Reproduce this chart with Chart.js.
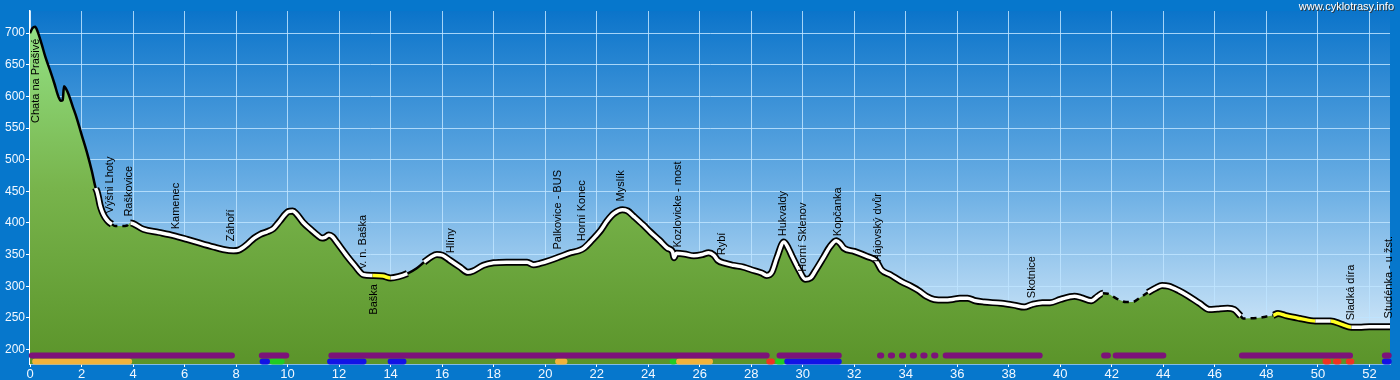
<!DOCTYPE html>
<html>
<head>
<meta charset="utf-8">
<title>Výškový profil</title>
<script src="https://cdn.jsdelivr.net/npm/chart.js@4.4.1/dist/chart.umd.min.js"></script>
<style>
  html, body { margin: 0; padding: 0; background: #0677cc; }
  #wrap { position: relative; width: 1400px; height: 380px; }
</style>
</head>
<body>
<div id="wrap"><canvas id="profile"></canvas></div>
<script>
// elevation profile (km, m n. m.)
const profileKm = [
    0.0, 0.1, 0.2, 0.3, 0.45, 0.6, 0.78, 0.95, 1.1, 1.2, 1.27, 1.32, 1.4, 1.5, 1.65, 1.82, 2.0, 2.2, 2.4, 2.55,
    2.6, 2.66, 2.72, 2.8, 2.91, 3.05, 3.18, 3.3, 3.55, 3.77, 3.9, 4.0, 4.4, 5.0, 5.57, 6.1, 6.6, 7.12, 7.5, 7.9,
    8.1, 8.43, 8.7, 8.94, 9.2, 9.45, 9.7, 10.03, 10.2, 10.35, 10.6, 10.95, 11.15, 11.34, 11.45, 11.6, 11.75, 11.9, 12.3, 12.6,
    12.95, 13.3, 13.7, 14.0, 14.3, 14.65, 15.0, 15.3, 15.6, 15.8, 16.0, 16.3, 16.7, 17.0, 17.2, 17.6, 18.0, 18.5, 19.3, 19.55,
    19.8, 20.2, 20.6, 21.0, 21.3, 21.5, 21.8, 22.15, 22.4, 22.67, 23.0, 23.2, 23.45, 23.8, 24.1, 24.45, 24.75, 24.95, 25.0, 25.1,
    25.4, 25.77, 26.1, 26.35, 26.55, 26.7, 27.0, 27.3, 27.7, 28.0, 28.4, 28.6, 28.8, 29.0, 29.27, 29.45, 29.6, 29.85, 30.1, 30.3,
    30.5, 30.8, 31.05, 31.3, 31.45, 31.6, 32.0, 32.5, 32.85, 33.05, 33.4, 33.8, 34.2, 34.5, 34.8, 35.1, 35.5, 35.8, 36.1, 36.4,
    36.7, 37.04, 37.7, 38.2, 38.6, 38.9, 39.3, 39.6, 40.0, 40.55, 40.8, 41.2, 41.45, 41.65, 41.85, 42.2, 42.55, 42.8, 43.1, 43.4,
    43.7, 43.95, 44.2, 44.6, 44.95, 45.4, 45.8, 46.1, 46.5, 46.75, 47.0, 47.1, 47.7, 48.0, 48.27, 48.45, 48.8, 49.3, 49.9, 50.5,
    50.9, 51.3, 51.6, 52.0, 52.85
];
const profileElev = [
    700, 708, 710, 702, 683, 662, 641, 620, 600, 593, 594, 616, 612, 603, 585, 565, 540, 513, 482, 455,
    450, 440, 428, 418, 409, 402, 398, 395, 395, 396, 400, 399, 390, 385, 380, 374, 368, 362, 358, 356,
    357, 366, 376, 382, 386, 391, 403, 418, 419, 414, 401, 388, 381, 376, 377, 381, 378, 370, 348, 333,
    318, 317, 316, 313, 315, 320, 328, 338, 347, 350, 349, 341, 330, 322, 324, 333, 337, 338, 338, 334,
    336, 341, 347, 353, 356, 360, 372, 388, 403, 415, 421, 419, 410, 397, 385, 372, 360, 354, 345, 352,
    351, 348, 350, 353, 349, 341, 336, 333, 330, 326, 321, 317, 322, 345, 370, 359, 346, 326, 311, 313,
    325, 345, 362, 372, 368, 360, 355, 347, 340, 326, 318, 308, 300, 293, 284, 279, 278, 279, 281, 281,
    277, 275, 273, 270, 267, 271, 274, 274, 279, 284, 282, 277, 284, 289, 288, 280, 275, 275, 282, 290,
    297, 301, 300, 293, 285, 273, 263, 264, 265, 263, 253, 249, 250, 252, 254, 257, 253, 249, 245, 245,
    240, 235, 235, 236, 236
];

// line style sections along the route (km from-to)
const thinKm = [[0, 2.57], [14.62, 15.35]];
const dashedKm = [[3.2, 3.85], [41.75, 43.35], [47.05, 48.3]];
const yellowKm = [[13.35, 14.0], [29.2, 29.35], [48.35, 49.85], [50.55, 51.35]];

// surface strips under the profile (km from-to)
const surfacePurple = [[0.07, 7.84], [9.0, 9.95], [11.7, 28.6], [29.1, 31.4], [33.0, 33.05], [33.42, 33.47],
    [33.85, 33.9], [34.27, 34.32], [34.68, 34.73], [35.1, 35.15], [35.55, 39.2], [41.7, 41.85], [42.15, 44.0],
    [47.05, 51.25], [52.6, 52.75]];
const surfaceOrange = [[0.2, 3.85], [20.5, 20.75], [25.2, 26.4]];
const surfaceBlue = [[9.03, 9.2], [11.65, 12.95], [14.0, 14.5], [29.4, 31.4], [52.6, 52.75]];
const surfaceGreen = [[9.42, 9.77], [24.95, 25.0], [29.05, 29.2]];
const surfaceRed = [[28.7, 28.8], [50.3, 50.4], [50.7, 50.8], [51.2, 51.3]];

// places
const placeNames = ['Chata na Prašivé', 'Výšni Lhoty', 'Raškovice', 'Kamenec', 'Záhoří', 'v. n. Baška', 'Baška',
    'Hlíny', 'Palkovice - BUS', 'Horní Konec', 'Myslík', 'Kozlovicke - most', 'Rybí', 'Hukvaldy', 'Horní Sklenov',
    'Kopčanka', 'Hájovský dvůr', 'Skotnice', 'Sladká díra', 'Studénka - u žst.'];
const placeKm = [0.25, 3.12, 3.83, 5.65, 7.82, 12.91, 13.34, 16.33, 20.48, 21.42, 22.93, 25.15, 26.85, 29.22,
    30.0, 31.36, 32.91, 38.9, 51.28, 52.75];
const placeElev = [558, 415, 410, 390, 371, 328, 255, 352, 358, 371, 434, 361, 349, 379, 323, 379, 338, 281, 246, 249];

const xTicks = [0, 2, 4, 6, 8, 10, 12, 14, 16, 18, 20, 22, 24, 26, 28, 30, 32, 34, 36, 38, 40, 42, 44, 46, 48, 50, 52];
const yTicks = [200, 250, 300, 350, 400, 450, 500, 550, 600, 650, 700];

const FONT = '"Liberation Sans", Arial, sans-serif';
const UPPER_ROW = 190.5;
const LOWER_ROW = 181;

function inRanges(ranges, km) {
    return ranges.some(([a, b]) => km >= a && km <= b);
}

function segMid(ctx) {
    return (ctx.p0.parsed.x + ctx.p1.parsed.x) / 2;
}

function rowData(ranges, y) {
    const pts = [];
    ranges.forEach(([a, b]) => {
        pts.push({ x: a, y }, { x: b, y }, { x: b, y: null });
    });
    return pts;
}

function strip(ranges, y, color) {
    return {
        data: rowData(ranges, y),
        borderColor: color,
        borderWidth: 6,
        borderCapStyle: 'round',
        pointRadius: 0,
        fill: false,
        spanGaps: false,
        clip: false,
        order: 1,
    };
}

const profilePoints = profileKm.map((km, i) => ({ x: km, y: profileElev[i] }));

const backdrop = {
    id: 'backdrop',
    beforeDraw(chart) {
        const { ctx, chartArea: a } = chart;
        ctx.save();
        ctx.fillStyle = '#0677cc';
        ctx.fillRect(0, 0, chart.width, chart.height);
        const g = ctx.createLinearGradient(0, a.top, 0, a.bottom);
        g.addColorStop(0, '#0b74ca');
        g.addColorStop(0.5, '#6aaee4');
        g.addColorStop(1, '#e2f1fc');
        ctx.fillStyle = g;
        ctx.fillRect(a.left, a.top, a.right - a.left, a.bottom - a.top);
        ctx.restore();
    },
    afterDraw(chart) {
        const { ctx } = chart;
        ctx.save();
        ctx.font = '11px ' + FONT;
        ctx.textAlign = 'right';
        ctx.textBaseline = 'middle';
        ctx.fillStyle = '#333';
        ctx.fillText('www.cyklotrasy.info', 1395, 8);
        ctx.fillStyle = '#fff';
        ctx.fillText('www.cyklotrasy.info', 1394, 7);
        ctx.restore();
    },
};

const placeLabels = {
    id: 'placeLabels',
    afterDatasetsDraw(chart) {
        const { ctx, scales: { x, y } } = chart;
        ctx.save();
        ctx.font = '11px ' + FONT;
        ctx.fillStyle = '#000';
        ctx.textAlign = 'left';
        ctx.textBaseline = 'middle';
        placeNames.forEach((name, i) => {
            ctx.save();
            ctx.translate(x.getPixelForValue(placeKm[i]), y.getPixelForValue(placeElev[i]));
            ctx.rotate(-Math.PI / 2);
            ctx.fillText(name, 0, 0);
            ctx.restore();
        });
        ctx.restore();
    },
};

function greenFill(context) {
    const { chart } = context;
    const a = chart.chartArea;
    if (!a) {
        return null;
    }
    const g = chart.ctx.createLinearGradient(0, a.top, 0, a.bottom);
    g.addColorStop(0, '#96e68a');
    g.addColorStop(0.5, '#78b44c');
    g.addColorStop(1, '#5b942a');
    return g;
}

new Chart(document.getElementById('profile'), {
    type: 'line',
    data: {
        datasets: [
            // white road line on top of the outline
            {
                data: profilePoints,
                borderColor: '#fff',
                borderWidth: 3.5,
                pointRadius: 0,
                fill: false,
                cubicInterpolationMode: 'monotone',
                order: 2,
                segment: {
                    borderColor(ctx) {
                        const km = segMid(ctx);
                        if (inRanges(thinKm, km) || inRanges(dashedKm, km)) {
                            return 'rgba(0,0,0,0)';
                        }
                        if (inRanges(yellowKm, km)) {
                            return '#ffff22';
                        }
                        return undefined;
                    },
                },
            },
            // black outline
            {
                data: profilePoints,
                borderColor: '#000',
                borderWidth: 7,
                fill: false,
                pointRadius: 0,
                cubicInterpolationMode: 'monotone',
                order: 3,
                segment: {
                    borderWidth(ctx) {
                        const km = segMid(ctx);
                        return inRanges(thinKm, km) || inRanges(dashedKm, km) ? 2.5 : undefined;
                    },
                    borderDash(ctx) {
                        return inRanges(dashedKm, segMid(ctx)) ? [6, 5] : undefined;
                    },
                },
            },
            // green area under the profile
            {
                data: profilePoints,
                borderWidth: 0,
                borderColor: 'rgba(0,0,0,0)',
                backgroundColor: greenFill,
                fill: 'start',
                pointRadius: 0,
                cubicInterpolationMode: 'monotone',
                order: 4,
            },
            strip(surfacePurple, UPPER_ROW, '#7c1379'),
            strip(surfaceOrange, LOWER_ROW, '#f2b33a'),
            strip(surfaceBlue, LOWER_ROW, '#1212e6'),
            strip(surfaceGreen, LOWER_ROW, '#22cc22'),
            strip(surfaceRed, LOWER_ROW, '#ee3322'),
        ],
    },
    options: {
        responsive: true,
        maintainAspectRatio: false,
        animation: false,
        layout: {
            padding: { top: 11, right: 10, left: 0, bottom: 0 },
        },
        plugins: {
            legend: { display: false },
            tooltip: { enabled: false },
        },
        scales: {
            x: {
                type: 'linear',
                min: 0,
                max: 52.8,
                afterBuildTicks(scale) {
                    scale.ticks = xTicks.map((v) => ({ value: v }));
                },
                afterFit(scale) {
                    scale.height = 16;
                },
                grid: {
                    color: 'rgba(190,228,255,0.85)',
                    lineWidth: 1,
                    tickLength: 3,
                    tickColor: '#fff',
                },
                border: { display: true, color: '#fff', width: 1.5 },
                ticks: {
                    autoSkip: false,
                    maxRotation: 0,
                    padding: 0,
                    color: '#f2f8ff',
                    font: { family: FONT, size: 13 },
                },
            },
            y: {
                type: 'linear',
                min: 177,
                max: 735,
                afterBuildTicks(scale) {
                    scale.ticks = yTicks.map((v) => ({ value: v }));
                },
                afterFit(scale) {
                    scale.width = 30;
                },
                grid: {
                    color: 'rgba(190,228,255,0.85)',
                    lineWidth: 1,
                    tickLength: 4,
                    tickColor: '#fff',
                },
                border: { display: true, color: '#fff', width: 1.5 },
                ticks: {
                    padding: 1,
                    color: '#f2f8ff',
                    font: { family: FONT, size: 12 },
                },
            },
        },
    },
    plugins: [backdrop, placeLabels],
});
</script>
</body>
</html>
